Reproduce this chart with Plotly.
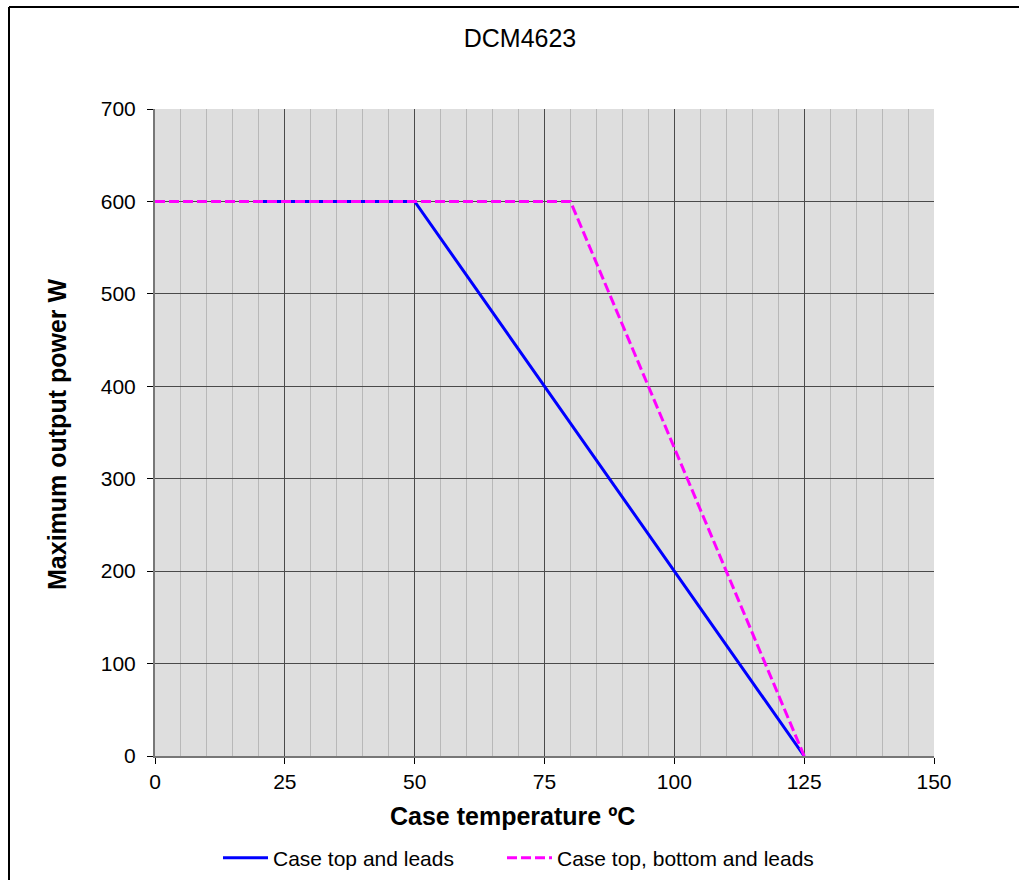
import plotly.graph_objects as go

# Data
x_top_leads = [20, 50, 125]
y_top_leads = [600, 600, 0]
x_all = [0, 80, 125]
y_all = [600, 600, 0]
x_ticks = [0, 25, 50, 75, 100, 125, 150]
y_ticks = [0, 100, 200, 300, 400, 500, 600, 700]

W, H = 1019, 880
L, R, T, B = 155, 934, 109, 756
pw, ph = R - L, B - T

fig = go.Figure()
fig.add_trace(go.Scatter(x=x_top_leads, y=y_top_leads, mode="lines",
                         name="Case top and leads", legend="legend",
                         line=dict(color="#0000ff", width=3)))
fig.add_trace(go.Scatter(x=x_all, y=y_all, mode="lines",
                         name="Case top, bottom and leads", legend="legend2",
                         line=dict(color="#ff00ff", width=3, dash="10px,4px")))

font = "Arial, 'Liberation Sans', sans-serif"

leg_common = dict(orientation="h", xanchor="left", xref="paper",
                  y=-(858 - B) / ph, yanchor="middle",
                  font=dict(size=21, family=font), bgcolor="rgba(0,0,0,0)",
                  itemwidth=45)

fig.update_layout(
    width=W, height=H,
    margin=dict(l=L, r=W - R, t=T, b=H - B, autoexpand=False),
    paper_bgcolor="white",
    plot_bgcolor="#dedede",
    font=dict(family=font, color="black"),
    title=dict(text="DCM4623", x=520 / W, xanchor="center",
               y=1 - 38 / H, yanchor="middle", font=dict(size=25, family=font)),
    showlegend=True,
    legend=dict(x=(225 - 7 - L) / pw, **leg_common),
    legend2=dict(x=(509 - 7 - L) / pw, **leg_common),
)

fig.update_xaxes(
    range=[0, 150], tickvals=x_ticks, ticks="outside", ticklen=6, tickcolor="black",
    showline=True, linecolor="#777777", linewidth=2,
    showgrid=True, gridcolor="#4a4a4a", gridwidth=1,
    minor=dict(dtick=5, showgrid=True, gridcolor="#b8b8b8", gridwidth=1, ticks=""),
    tickfont=dict(size=21), zeroline=False, ticklabelstandoff=0,
)
fig.update_yaxes(
    range=[0, 700], tickvals=y_ticks, ticks="outside", ticklen=6, tickcolor="black",
    showline=True, linecolor="#777777", linewidth=2,
    showgrid=True, gridcolor="#4a4a4a", gridwidth=1,
    tickfont=dict(size=21), zeroline=False, ticklabelstandoff=7,
)

# Axis titles
fig.add_annotation(text="<b>Case temperature ºC</b>", xref="paper", yref="paper",
                   x=(512 - L) / pw, y=-(816 - B) / ph, xanchor="center", yanchor="middle",
                   showarrow=False, font=dict(size=25, family=font))
fig.add_annotation(text="<b>Maximum output power W</b>", xref="paper", yref="paper",
                   x=(57 - L) / pw, y=(B - 434) / ph, xanchor="center", yanchor="middle",
                   textangle=-90, showarrow=False, font=dict(size=25, family=font))

# Outer chart border (top and left edges visible)
fig.add_shape(type="line", xref="paper", yref="paper",
              x0=(9 - L) / pw, x1=(W + 5 - L) / pw, y0=(B - 7) / ph, y1=(B - 7) / ph,
              line=dict(color="black", width=2))
fig.add_shape(type="line", xref="paper", yref="paper",
              x0=(9 - L) / pw, x1=(9 - L) / pw, y0=(B - 7) / ph, y1=(B - H - 5) / ph,
              line=dict(color="black", width=2))

fig.write_html("out.html")
